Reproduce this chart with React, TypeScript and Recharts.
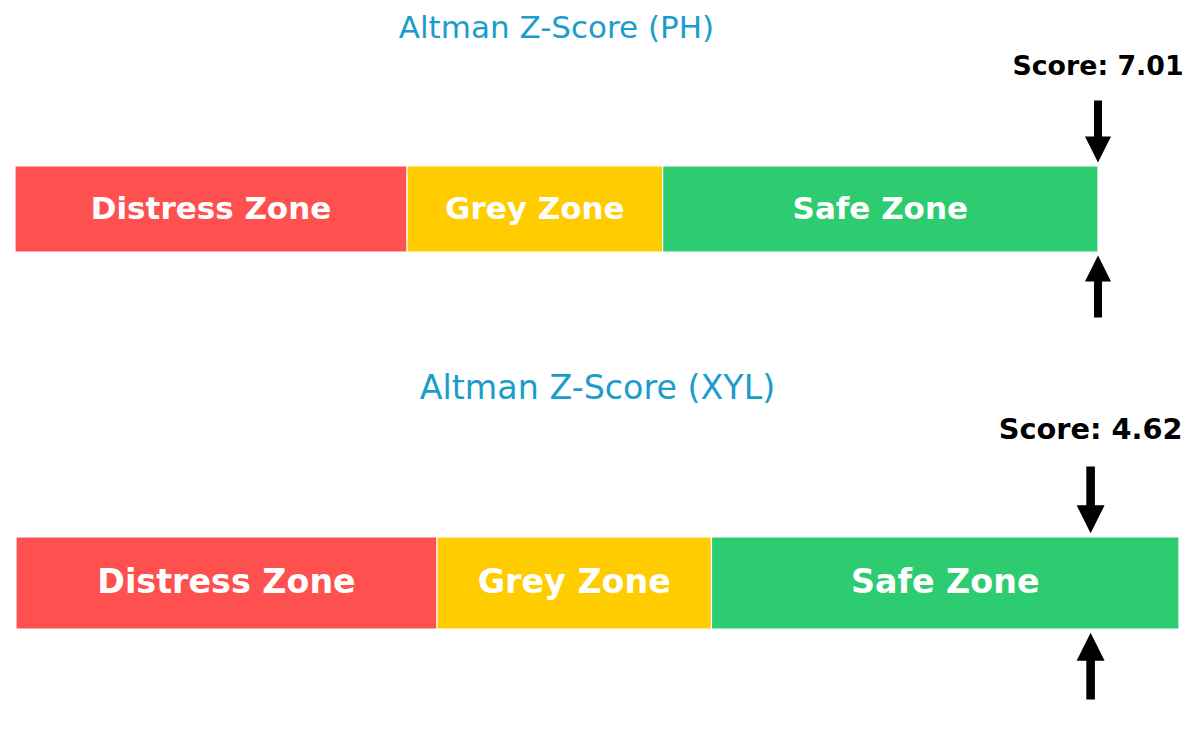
import React from 'react';
import { BarChart, Bar, XAxis, YAxis, LabelList, ReferenceLine } from 'recharts';

const companies = ['PH', 'XYL'];
const scores = [7.01, 4.62];
const zoneNames = ['Distress Zone', 'Grey Zone', 'Safe Zone'];
const zoneLimits = [0, 1.81, 2.99, 5];
const zoneColors = ['#ff5050', '#ffcc00', '#2ecc71'];

// one panel per company, scaled like the source pictures
const panels = [
  { top: 0, height: 360, left: 15, right: 102, mTop: 166, mBottom: 108, s: 1 },
  { top: 360, height: 384, left: 16, right: 21, mTop: 177, mBottom: 115, s: 1.075 },
];

const zoneKeys = ['distress', 'grey', 'safe'];

function makeRow(name: string) {
  const row: Record<string, any> = { name };
  zoneKeys.forEach((k, i) => {
    row[k] = zoneLimits[i + 1] - zoneLimits[i];
  });
  return row;
}

function arrowPoints(x: number, tip: number, dir: number, s: number) {
  const head = 26 * s;
  const shaft = 8 * s;
  const len = 62 * s;
  return [
    [x - shaft / 2, tip + dir * len],
    [x + shaft / 2, tip + dir * len],
    [x + shaft / 2, tip + dir * head],
    [x + head / 2, tip + dir * head],
    [x, tip],
    [x - head / 2, tip + dir * head],
    [x - shaft / 2, tip + dir * head],
  ]
    .map((p) => p.join(','))
    .join(' ');
}

function Marker(props: any) {
  const { x1, y1, y2, s, score } = props;
  const top = Math.min(y1, y2);
  const bottom = Math.max(y1, y2);
  const gap = 3.5 * s;
  return (
    <g>
      <text
        x={x1}
        y={top - 91 * s}
        textAnchor="middle"
        fontFamily="DejaVu Sans"
        fontWeight="bold"
        fontSize={26.8 * s}
        fill="#000"
      >
        {`Score: ${score.toFixed(2)}`}
      </text>
      <polygon fill="#000" points={arrowPoints(x1, top - gap, -1, s)} />
      <polygon fill="#000" points={arrowPoints(x1, bottom + gap, 1, s)} />
    </g>
  );
}

function Panel({ idx }: { idx: number }) {
  const p = panels[idx];
  const name = companies[idx];
  const score = scores[idx];
  const axisMax = zoneLimits[zoneLimits.length - 1];
  const markerAt = Math.min(score, axisMax);
  const plotWidth = 1200 - p.left - p.right;
  const titleSize = 31 * p.s;
  const titleBaseline = idx === 0 ? 38 : 39;
  return (
    <div style={{ position: 'absolute', left: 0, top: p.top, width: 1200, height: p.height }}>
      <div
        style={{
          position: 'absolute',
          left: p.left,
          width: plotWidth,
          top: titleBaseline - titleSize * 0.846,
          textAlign: 'center',
          fontFamily: 'DejaVu Sans',
          fontSize: titleSize,
          lineHeight: 1,
          color: '#1c9ccb',
          whiteSpace: 'nowrap',
        }}
      >
        {`Altman Z-Score (${name})`}
      </div>
      <BarChart
        width={1200}
        height={p.height}
        data={[makeRow(name)]}
        layout="vertical"
        barCategoryGap={0}
        margin={{ top: p.mTop, bottom: p.mBottom, left: p.left, right: p.right }}
        style={{ position: 'absolute', left: 0, top: 0 }}
      >
        <XAxis type="number" domain={[0, axisMax]} hide allowDataOverflow />
        <YAxis type="category" dataKey="name" hide />
        {zoneKeys.map((k, i) => (
          <Bar
            key={k}
            dataKey={k}
            stackId="z"
            fill={zoneColors[i]}
            stroke="#ffffff"
            strokeWidth={1.2}
            isAnimationActive={false}
          >
            <LabelList
              position="center"
              content={(lp: any) => (
                <text
                  x={lp.x + lp.width / 2}
                  y={lp.y + lp.height / 2}
                  dy={9.5 * p.s}
                  textAnchor="middle"
                  fontFamily="DejaVu Sans"
                  fontWeight="bold"
                  fontSize={31 * p.s}
                  fill="#ffffff"
                >
                  {zoneNames[i]}
                </text>
              )}
            />
          </Bar>
        ))}
        <ReferenceLine
          x={markerAt}
          ifOverflow="visible"
          shape={(lp: any) => <Marker {...lp} s={p.s} score={score} />}
        />
      </BarChart>
    </div>
  );
}

export default function App() {
  return (
    <div
      style={{
        position: 'absolute',
        left: 0,
        top: 0,
        width: 1200,
        height: 744,
        background: '#ffffff',
        overflow: 'hidden',
      }}
    >
      <Panel idx={0} />
      <Panel idx={1} />
    </div>
  );
}
